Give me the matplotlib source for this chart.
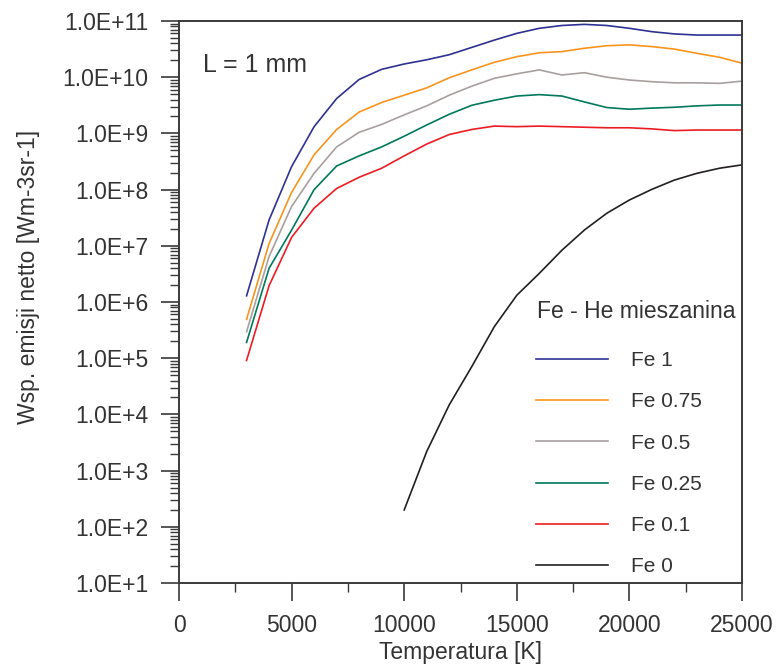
import numpy as np
import matplotlib
matplotlib.use("Agg")
import matplotlib.pyplot as plt
from matplotlib.ticker import LogLocator, FuncFormatter, MultipleLocator, NullFormatter

plt.rcParams['font.family'] = ['Liberation Sans', 'DejaVu Sans']

# temperatures [K]
T = [3000, 4000, 5000, 6000, 7000, 8000, 9000, 10000, 11000, 12000, 13000, 14000,
     15000, 16000, 17000, 18000, 19000, 20000, 21000, 22000, 23000, 24000, 25000]
T0 = [10000, 11000, 12000, 13000, 14000, 15000, 16000, 17000, 18000, 19000,
      20000, 21000, 22000, 23000, 24000, 25000]

# log10 of the net emission coefficient
fe_1 = [6.11, 7.46, 8.41, 9.12, 9.62, 9.96, 10.14, 10.235, 10.31, 10.40, 10.53, 10.66,
        10.78, 10.87, 10.92, 10.94, 10.92, 10.87, 10.81, 10.77, 10.75, 10.75, 10.75]
fe_075 = [5.69, 7.04, 7.95, 8.62, 9.07, 9.38, 9.55, 9.68, 9.81, 9.99, 10.13, 10.265,
          10.365, 10.435, 10.455, 10.515, 10.56, 10.575, 10.545, 10.50, 10.425, 10.355, 10.25]
fe_05 = [5.47, 6.81, 7.70, 8.29, 8.76, 9.02, 9.16, 9.33, 9.49, 9.68, 9.84, 9.98,
         10.06, 10.13, 10.04, 10.08, 10.00, 9.95, 9.92, 9.90, 9.90, 9.89, 9.93]
fe_025 = [5.28, 6.60, 7.28, 8.00, 8.42, 8.60, 8.76, 8.95, 9.15, 9.34, 9.50, 9.59,
          9.665, 9.69, 9.665, 9.56, 9.46, 9.43, 9.45, 9.465, 9.49, 9.505, 9.505]
fe_01 = [4.96, 6.29, 7.15, 7.67, 8.02, 8.22, 8.38, 8.60, 8.81, 8.98, 9.07, 9.13,
         9.12, 9.13, 9.12, 9.11, 9.10, 9.10, 9.08, 9.05, 9.06, 9.06, 9.06]
fe_0 = [2.30, 3.34, 4.17, 4.85, 5.56, 6.12, 6.51, 6.92, 7.28, 7.58,
        7.815, 8.005, 8.17, 8.29, 8.38, 8.44]

labels = ["Fe 1", "Fe 0.75", "Fe 0.5", "Fe 0.25", "Fe 0.1", "Fe 0"]
colors = ["#2E3192", "#F7941D", "#A89F9F", "#00785A", "#ED1C24", "#231F20"]

txt = "#333333"
fs = 16.5

fig = plt.figure(figsize=(7.79, 6.69), dpi=100)
ax = fig.add_axes([179/779, 1 - 583/669, (742-179)/779, (583-21)/669])

series = [(T, fe_1), (T, fe_075), (T, fe_05), (T, fe_025), (T, fe_01), (T0, fe_0)]
for (x, y), lab, c in zip(series, labels, colors):
    ax.plot(x, 10 ** np.array(y), color=c, lw=1.2, label=lab)

ax.set_yscale("log")
ax.set_xlim(0, 25000)
ax.set_ylim(1e1, 1e11)

ax.xaxis.set_major_locator(MultipleLocator(5000))
ax.xaxis.set_minor_locator(MultipleLocator(2500))
ax.yaxis.set_major_locator(LogLocator(base=10, numticks=20))
ax.yaxis.set_minor_locator(LogLocator(base=10, subs=np.arange(2, 10), numticks=200))
ax.yaxis.set_minor_formatter(NullFormatter())
ax.yaxis.set_major_formatter(FuncFormatter(lambda v, p: "1.0E+%d" % int(round(np.log10(v)))))

for s in ax.spines.values():
    s.set_linewidth(1.4)
    s.set_color("#3a3a3a")
ax.tick_params(which="major", direction="out", length=13, width=1.2, colors="#3a3a3a",
               labelsize=fs, labelcolor=txt)
ax.tick_params(which="minor", direction="out", length=6.5, width=1.0, colors="#3a3a3a")
ax.tick_params(axis="y", which="major", pad=9)
ax.tick_params(axis="x", which="major", pad=9)

ax.set_xlabel("Temperatura [K]", fontsize=fs, color=txt, labelpad=3)
ax.set_ylabel("Wsp. emisji netto [Wm-3sr-1]", fontsize=fs, color=txt)
ax.yaxis.set_label_coords((40 - 179) / 563, (583 - 277) / 562)

ax.text((203 - 179) / 563, (583 - 65) / 562, "L = 1 mm", fontsize=18, color=txt,
        va="center", ha="left", transform=ax.transAxes)

ax.text((537 - 179) / 563, (583 - 311) / 562, "Fe - He mieszanina", fontsize=fs,
        color=txt, va="center", ha="left", transform=ax.transAxes)

leg = ax.legend(loc="upper left", bbox_to_anchor=((536 - 179) / 563, (583 - 351) / 562),
                frameon=False, fontsize=15, handlelength=3.46, handletextpad=1.1,
                labelspacing=1.07, borderaxespad=0, borderpad=0)
for t in leg.get_texts():
    t.set_color(txt)

fig.savefig("out.png", dpi=100)
